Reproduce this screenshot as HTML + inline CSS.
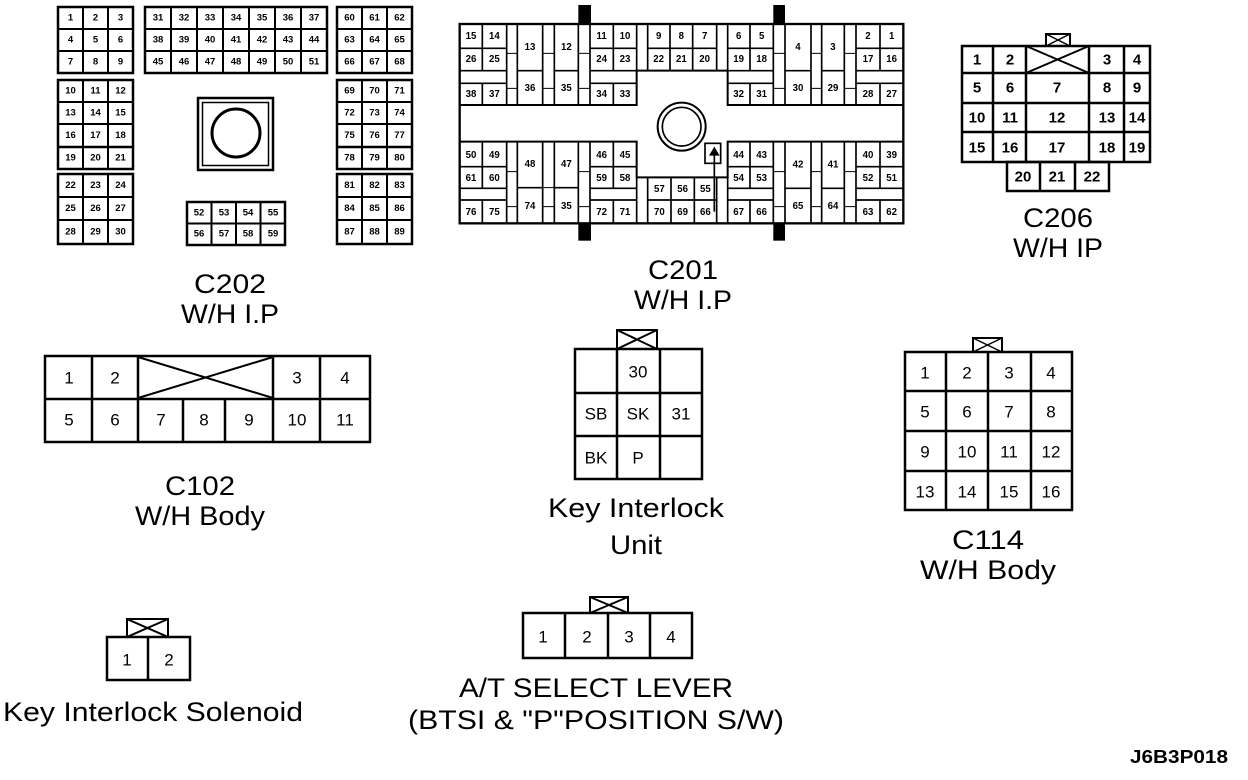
<!DOCTYPE html>
<html><head><meta charset="utf-8"><style>
html,body{margin:0;padding:0;background:#fff;}
svg{display:block;}
text{font-family:"Liberation Sans",Arial,sans-serif;text-anchor:middle;dominant-baseline:central;fill:#000;}
.s{font-size:9.5px;font-weight:bold;}
.m{font-size:17px;}
.L{font-size:27px;}
.g rect,.g line,.g path{fill:none;stroke:#000;}
</style></head><body>
<svg width="1248" height="780" viewBox="0 0 1248 780" xmlns="http://www.w3.org/2000/svg">
<g class="g" stroke-width="2">
<!-- C202 -->
<rect x="58" y="7" width="75" height="66" stroke-width="2.5"/>
<line x1="83" y1="7" x2="83" y2="73"/><line x1="108" y1="7" x2="108" y2="73"/>
<line x1="58" y1="29" x2="133" y2="29"/><line x1="58" y1="51" x2="133" y2="51"/>
<rect x="58" y="80" width="75" height="89" stroke-width="2.5"/>
<line x1="83" y1="80" x2="83" y2="169"/><line x1="108" y1="80" x2="108" y2="169"/>
<line x1="58" y1="102" x2="133" y2="102"/><line x1="58" y1="124" x2="133" y2="124"/><line x1="58" y1="147" x2="133" y2="147" stroke-width="2.5"/>
<rect x="58" y="174" width="75" height="70" stroke-width="2.5"/>
<line x1="83" y1="174" x2="83" y2="244"/><line x1="108" y1="174" x2="108" y2="244"/>
<line x1="58" y1="197" x2="133" y2="197"/><line x1="58" y1="220" x2="133" y2="220"/>
<rect x="145" y="7" width="182" height="66" stroke-width="2.5"/>
<line x1="171" y1="7" x2="171" y2="73"/><line x1="197" y1="7" x2="197" y2="73"/><line x1="223" y1="7" x2="223" y2="73"/><line x1="249" y1="7" x2="249" y2="73"/><line x1="275" y1="7" x2="275" y2="73"/><line x1="301" y1="7" x2="301" y2="73"/>
<line x1="145" y1="29" x2="327" y2="29"/><line x1="145" y1="51" x2="327" y2="51"/>
<rect x="187" y="202" width="98" height="43" stroke-width="2.5"/>
<line x1="211.5" y1="202" x2="211.5" y2="245"/><line x1="236" y1="202" x2="236" y2="245"/><line x1="260.5" y1="202" x2="260.5" y2="245"/>
<line x1="187" y1="223.5" x2="285" y2="223.5"/>
<rect x="337" y="7" width="75" height="66" stroke-width="2.5"/>
<line x1="362" y1="7" x2="362" y2="73"/><line x1="387" y1="7" x2="387" y2="73"/>
<line x1="337" y1="29" x2="412" y2="29"/><line x1="337" y1="51" x2="412" y2="51"/>
<rect x="337" y="80" width="75" height="89" stroke-width="2.5"/>
<line x1="362" y1="80" x2="362" y2="169"/><line x1="387" y1="80" x2="387" y2="169"/>
<line x1="337" y1="102" x2="412" y2="102"/><line x1="337" y1="124" x2="412" y2="124"/><line x1="337" y1="147" x2="412" y2="147" stroke-width="2.5"/>
<rect x="337" y="174" width="75" height="70" stroke-width="2.5"/>
<line x1="362" y1="174" x2="362" y2="244"/><line x1="387" y1="174" x2="387" y2="244"/>
<line x1="337" y1="197" x2="412" y2="197"/><line x1="337" y1="220" x2="412" y2="220"/>
<rect x="198" y="98" width="75" height="72" stroke-width="2.5"/>
<rect x="202.5" y="102.5" width="66" height="63" stroke-width="1.5"/>
<circle cx="236" cy="133" r="24" fill="none" stroke="#000" stroke-width="3"/>
</g>
<g class="s">
<text x="70.5" y="18">1</text><text x="95.5" y="18">2</text><text x="120.5" y="18">3</text>
<text x="70.5" y="40">4</text><text x="95.5" y="40">5</text><text x="120.5" y="40">6</text>
<text x="70.5" y="62">7</text><text x="95.5" y="62">8</text><text x="120.5" y="62">9</text>
<text x="70.5" y="91">10</text><text x="95.5" y="91">11</text><text x="120.5" y="91">12</text>
<text x="70.5" y="113">13</text><text x="95.5" y="113">14</text><text x="120.5" y="113">15</text>
<text x="70.5" y="135.5">16</text><text x="95.5" y="135.5">17</text><text x="120.5" y="135.5">18</text>
<text x="70.5" y="158">19</text><text x="95.5" y="158">20</text><text x="120.5" y="158">21</text>
<text x="70.5" y="185.5">22</text><text x="95.5" y="185.5">23</text><text x="120.5" y="185.5">24</text>
<text x="70.5" y="208.5">25</text><text x="95.5" y="208.5">26</text><text x="120.5" y="208.5">27</text>
<text x="70.5" y="232">28</text><text x="95.5" y="232">29</text><text x="120.5" y="232">30</text>
<text x="158" y="18">31</text><text x="184" y="18">32</text><text x="210" y="18">33</text><text x="236" y="18">34</text><text x="262" y="18">35</text><text x="288" y="18">36</text><text x="314" y="18">37</text>
<text x="158" y="40">38</text><text x="184" y="40">39</text><text x="210" y="40">40</text><text x="236" y="40">41</text><text x="262" y="40">42</text><text x="288" y="40">43</text><text x="314" y="40">44</text>
<text x="158" y="62">45</text><text x="184" y="62">46</text><text x="210" y="62">47</text><text x="236" y="62">48</text><text x="262" y="62">49</text><text x="288" y="62">50</text><text x="314" y="62">51</text>
<text x="199" y="213">52</text><text x="224" y="213">53</text><text x="248" y="213">54</text><text x="273" y="213">55</text>
<text x="199" y="234">56</text><text x="224" y="234">57</text><text x="248" y="234">58</text><text x="273" y="234">59</text>
<text x="349.5" y="18">60</text><text x="374.5" y="18">61</text><text x="399.5" y="18">62</text>
<text x="349.5" y="40">63</text><text x="374.5" y="40">64</text><text x="399.5" y="40">65</text>
<text x="349.5" y="62">66</text><text x="374.5" y="62">67</text><text x="399.5" y="62">68</text>
<text x="349.5" y="91">69</text><text x="374.5" y="91">70</text><text x="399.5" y="91">71</text>
<text x="349.5" y="113">72</text><text x="374.5" y="113">73</text><text x="399.5" y="113">74</text>
<text x="349.5" y="135.5">75</text><text x="374.5" y="135.5">76</text><text x="399.5" y="135.5">77</text>
<text x="349.5" y="158">78</text><text x="374.5" y="158">79</text><text x="399.5" y="158">80</text>
<text x="349.5" y="185.5">81</text><text x="374.5" y="185.5">82</text><text x="399.5" y="185.5">83</text>
<text x="349.5" y="208.5">84</text><text x="374.5" y="208.5">85</text><text x="399.5" y="208.5">86</text>
<text x="349.5" y="232">87</text><text x="374.5" y="232">88</text><text x="399.5" y="232">89</text>
</g>

<!-- C201 in zoom coords -->
<g transform="translate(455,5) scale(0.33333)">
<rect x="370" y="0" width="38" height="57" fill="#000"/><rect x="955" y="0" width="35" height="57" fill="#000"/>
<rect x="370" y="655" width="38" height="52" fill="#000"/><rect x="955" y="655" width="35" height="52" fill="#000"/>
<g class="g" stroke-width="5">
<rect x="14" y="57" width="1331" height="598" stroke-width="7"/>
<path d="M14 300H545V197H818V300H1345M14 410H545V517H818V410H1345" stroke-width="6"/>
<!-- top cells -->
<path d="M14 130H155M405 130H545M578 130H785M818 130H955M1203 130H1345M14 197H155M405 197H545M818 197H955M1203 197H1345M14 235H155M405 235H545M818 235H955M1203 235H1345"/>
<path d="M82 57V197M82 235V300M475 57V197M475 235V300M645 57V197M713 57V197M885 57V197M885 235V300M1275 57V197M1275 235V300"/>
<path d="M155 57V300M187 57V300M263 57V300M298 57V300M370 57V300M405 57V300M545 57V197M578 57V197M785 57V197M818 57V197M955 57V300M990 57V300M1068 57V300M1100 57V300M1168 57V300M1203 57V300"/>
<path d="M187 197H263M298 197H370M990 197H1068M1100 197H1168"/>
<path d="M155 145H187M263 145H298M370 145H405M955 145H990M1068 145H1100M1168 145H1203M155 250H187M263 250H298M370 250H405M955 250H990M1068 250H1100M1168 250H1203" stroke-width="3"/>
<!-- bottom cells -->
<path d="M14 485H155M405 485H545M818 485H955M1203 485H1345M14 550H155M405 550H545M818 550H955M1203 550H1345M14 585H155M405 585H545M578 585H785M818 585H955M1203 585H1345"/>
<path d="M82 410V550M82 585V655M475 410V550M475 585V655M648 517V655M718 517V655M885 410V550M885 585V655M1275 410V550M1275 585V655"/>
<path d="M155 410V655M187 410V655M263 410V655M298 410V655M370 410V655M405 410V655M545 517V655M578 517V655M785 517V655M818 517V655M955 410V655M990 410V655M1068 410V655M1100 410V655M1168 410V655M1203 410V655"/>
<path d="M187 548H263M298 548H370M990 550H1068M1100 550H1168"/>
<path d="M155 500H187M263 548H298M370 500H405M955 500H990M1068 500H1100M1168 500H1203M155 605H187M263 605H298M370 605H405M955 605H990M1068 605H1100M1168 605H1203" stroke-width="3"/>
<circle cx="680" cy="365" r="72" stroke-width="6" fill="none" stroke="#000"/>
<circle cx="680" cy="365" r="58" stroke-width="5" fill="none" stroke="#000"/>
<rect x="750" y="415" width="47" height="60" stroke-width="5"/>
<path d="M778 430V620" stroke-width="5"/>
</g>
<path d="M778 425L762 452H794Z" fill="#000"/>
<g style="font-size:29px;font-weight:bold">
<text x="48" y="95">15</text><text x="118" y="95">14</text><text x="225" y="128">13</text><text x="334" y="128">12</text><text x="440" y="95">11</text><text x="510" y="95">10</text><text x="611" y="95">9</text><text x="679" y="95">8</text><text x="749" y="95">7</text><text x="851" y="95">6</text><text x="920" y="95">5</text><text x="1029" y="128">4</text><text x="1134" y="128">3</text><text x="1239" y="95">2</text><text x="1310" y="95">1</text>
<text x="48" y="163">26</text><text x="118" y="163">25</text><text x="440" y="163">24</text><text x="510" y="163">23</text><text x="611" y="163">22</text><text x="679" y="163">21</text><text x="749" y="163">20</text><text x="851" y="163">19</text><text x="920" y="163">18</text><text x="1239" y="163">17</text><text x="1310" y="163">16</text>
<text x="48" y="268">38</text><text x="118" y="268">37</text><text x="225" y="250">36</text><text x="334" y="250">35</text><text x="440" y="268">34</text><text x="510" y="268">33</text><text x="851" y="268">32</text><text x="920" y="268">31</text><text x="1029" y="250">30</text><text x="1134" y="250">29</text><text x="1239" y="268">28</text><text x="1310" y="268">27</text>
<text x="48" y="452">50</text><text x="118" y="452">49</text><text x="225" y="478">48</text><text x="334" y="478">47</text><text x="440" y="452">46</text><text x="510" y="452">45</text><text x="851" y="452">44</text><text x="920" y="452">43</text><text x="1029" y="480">42</text><text x="1134" y="480">41</text><text x="1239" y="452">40</text><text x="1310" y="452">39</text>
<text x="48" y="520">61</text><text x="118" y="520">60</text><text x="440" y="520">59</text><text x="510" y="520">58</text><text x="851" y="520">54</text><text x="920" y="520">53</text><text x="1239" y="520">52</text><text x="1310" y="520">51</text>
<text x="613" y="553">57</text><text x="683" y="553">56</text><text x="751" y="553">55</text>
<text x="48" y="622">76</text><text x="118" y="622">75</text><text x="225" y="605">74</text><text x="334" y="605">35</text><text x="440" y="622">72</text><text x="510" y="622">71</text><text x="613" y="622">70</text><text x="683" y="622">69</text><text x="751" y="622">66</text><text x="851" y="622">67</text><text x="920" y="622">66</text><text x="1029" y="605">65</text><text x="1134" y="605">64</text><text x="1239" y="622">63</text><text x="1310" y="622">62</text>
</g>
</g>

<!-- C206 -->
<g class="g" stroke-width="2.5">
<rect x="962" y="46" width="188" height="116"/>
<line x1="993" y1="46" x2="993" y2="162"/><line x1="1026" y1="46" x2="1026" y2="162"/><line x1="1089" y1="46" x2="1089" y2="162"/><line x1="1124" y1="46" x2="1124" y2="162"/>
<line x1="962" y1="73" x2="1150" y2="73"/><line x1="962" y1="103" x2="1150" y2="103"/><line x1="962" y1="132" x2="1150" y2="132"/>
<path d="M1026 46L1089 73M1026 73L1089 46" stroke-width="2"/>
<rect x="1007" y="162" width="102" height="29"/>
<line x1="1040" y1="162" x2="1040" y2="191"/><line x1="1075" y1="162" x2="1075" y2="191"/>
<rect x="1046" y="34" width="24" height="12" stroke-width="2"/><path d="M1046 34L1070 46M1046 46L1070 34" stroke-width="1.5"/>
</g>
<g class="m" style="font-size:15px;font-weight:bold">
<text x="977" y="60">1</text><text x="1010" y="60">2</text><text x="1107" y="60">3</text><text x="1137" y="60">4</text>
<text x="977" y="88">5</text><text x="1010" y="88">6</text><text x="1057" y="88">7</text><text x="1107" y="88">8</text><text x="1137" y="88">9</text>
<text x="977" y="118">10</text><text x="1010" y="118">11</text><text x="1057" y="118">12</text><text x="1107" y="118">13</text><text x="1137" y="118">14</text>
<text x="977" y="148">15</text><text x="1010" y="148">16</text><text x="1057" y="148">17</text><text x="1107" y="148">18</text><text x="1137" y="148">19</text>
<text x="1023" y="177">20</text><text x="1057" y="177">21</text><text x="1092" y="177">22</text>
</g>

<!-- C102 -->
<g class="g" stroke-width="2.5">
<rect x="45" y="356" width="325" height="86"/>
<line x1="45" y1="399" x2="370" y2="399"/>
<line x1="92" y1="356" x2="92" y2="442"/><line x1="138" y1="356" x2="138" y2="442"/><line x1="273" y1="356" x2="273" y2="442"/><line x1="320" y1="356" x2="320" y2="442"/>
<line x1="183" y1="399" x2="183" y2="442"/><line x1="225" y1="399" x2="225" y2="442"/>
<path d="M138 357L273 398M138 398L273 357" stroke-width="2"/>
</g>
<g class="m">
<text x="69" y="378">1</text><text x="115" y="378">2</text><text x="297" y="378">3</text><text x="345" y="378">4</text>
<text x="69" y="420">5</text><text x="115" y="420">6</text><text x="161" y="420">7</text><text x="204" y="420">8</text><text x="249" y="420">9</text><text x="297" y="420">10</text><text x="345" y="420">11</text>
</g>

<!-- Key Interlock Unit -->
<g class="g" stroke-width="2.5">
<rect x="575" y="349" width="127" height="130"/>
<line x1="617" y1="349" x2="617" y2="479"/><line x1="660" y1="349" x2="660" y2="479"/>
<line x1="575" y1="393" x2="702" y2="393"/><line x1="575" y1="436" x2="702" y2="436"/>
<rect x="617" y="330" width="40" height="19" stroke-width="2"/><path d="M617 330L657 349M617 349L657 330" stroke-width="2"/>
</g>
<g class="m">
<text x="638" y="372">30</text><text x="596" y="414">SB</text><text x="638" y="414">SK</text><text x="681" y="414">31</text><text x="596" y="458">BK</text><text x="638" y="458">P</text>
</g>

<!-- C114 -->
<g class="g" stroke-width="2.5">
<rect x="905" y="352" width="167" height="158"/>
<line x1="946" y1="352" x2="946" y2="510"/><line x1="988" y1="352" x2="988" y2="510"/><line x1="1031" y1="352" x2="1031" y2="510"/>
<line x1="905" y1="391" x2="1072" y2="391"/><line x1="905" y1="431" x2="1072" y2="431"/><line x1="905" y1="471" x2="1072" y2="471"/>
<rect x="973" y="338" width="29" height="14" stroke-width="2"/><path d="M973 338L1002 352M973 352L1002 338" stroke-width="1.5"/>
</g>
<g class="m">
<text x="925" y="373">1</text><text x="967" y="373">2</text><text x="1009" y="373">3</text><text x="1051" y="373">4</text>
<text x="925" y="412">5</text><text x="967" y="412">6</text><text x="1009" y="412">7</text><text x="1051" y="412">8</text>
<text x="925" y="452">9</text><text x="967" y="452">10</text><text x="1009" y="452">11</text><text x="1051" y="452">12</text>
<text x="925" y="492">13</text><text x="967" y="492">14</text><text x="1009" y="492">15</text><text x="1051" y="492">16</text>
</g>

<!-- Solenoid -->
<g class="g" stroke-width="2.5">
<rect x="107" y="637" width="83" height="43"/><line x1="148" y1="637" x2="148" y2="680"/>
<rect x="127" y="619" width="41" height="18" stroke-width="2"/><path d="M127 619L168 637M127 637L168 619" stroke-width="2"/>
</g>
<g class="m"><text x="127" y="660">1</text><text x="169" y="660">2</text></g>

<!-- A/T -->
<g class="g" stroke-width="2.5">
<rect x="523" y="613" width="169" height="45"/>
<line x1="565" y1="613" x2="565" y2="658"/><line x1="608" y1="613" x2="608" y2="658"/><line x1="650" y1="613" x2="650" y2="658"/>
<rect x="590" y="597" width="38" height="16" stroke-width="2"/><path d="M590 597L628 613M590 613L628 597" stroke-width="2"/>
</g>
<g class="m"><text x="543" y="637">1</text><text x="587" y="637">2</text><text x="629" y="637">3</text><text x="671" y="637">4</text></g>

<!-- Labels -->
<g class="L">
<text x="230" y="284" textLength="72" lengthAdjust="spacingAndGlyphs">C202</text>
<text x="230" y="314" textLength="98" lengthAdjust="spacingAndGlyphs">W/H I.P</text>
<text x="683" y="270" textLength="70" lengthAdjust="spacingAndGlyphs">C201</text>
<text x="683" y="300" textLength="98" lengthAdjust="spacingAndGlyphs">W/H I.P</text>
<text x="1058" y="218" textLength="70" lengthAdjust="spacingAndGlyphs">C206</text>
<text x="1058" y="248" textLength="90" lengthAdjust="spacingAndGlyphs">W/H IP</text>
<text x="200" y="486" textLength="70" lengthAdjust="spacingAndGlyphs">C102</text>
<text x="200" y="516" textLength="130" lengthAdjust="spacingAndGlyphs">W/H Body</text>
<text x="636" y="508" textLength="176" lengthAdjust="spacingAndGlyphs">Key Interlock</text>
<text x="636" y="545" textLength="52" lengthAdjust="spacingAndGlyphs">Unit</text>
<text x="988" y="540" textLength="72" lengthAdjust="spacingAndGlyphs">C114</text>
<text x="988" y="570" textLength="136" lengthAdjust="spacingAndGlyphs">W/H Body</text>
<text x="153" y="712" textLength="300" lengthAdjust="spacingAndGlyphs">Key Interlock Solenoid</text>
<text x="596" y="688" textLength="274" lengthAdjust="spacingAndGlyphs">A/T SELECT LEVER</text>
<text x="596" y="720" textLength="376" lengthAdjust="spacingAndGlyphs">(BTSI &amp; "P"POSITION  S/W)</text>
</g>
<text x="1179" y="757" style="font-size:18px;font-weight:bold" textLength="98" lengthAdjust="spacingAndGlyphs">J6B3P018</text>
</svg>
</body></html>
